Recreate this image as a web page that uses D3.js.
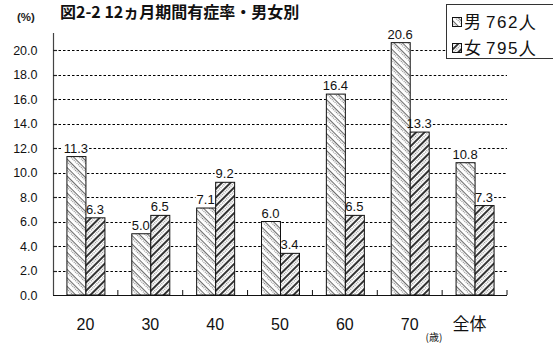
<!DOCTYPE html>
<html><head><meta charset="utf-8">
<script src="https://cdn.jsdelivr.net/npm/d3@7"></script>
<style>body{margin:0;background:#fff}svg{display:block}</style>
</head><body>
<svg id="c" width="553" height="344"></svg>
<script>
const categories = ["20","30","40","50","60","70","全体"];
const maleValues = [11.3, 5.0, 7.1, 6.0, 16.4, 20.6, 10.8];
const femaleValues = [6.3, 6.5, 9.2, 3.4, 6.5, 13.3, 7.3];
const yTicks = [0,2,4,6,8,10,12,14,16,18,20];
const seriesNames = ["男","女"];
const seriesCounts = ["762人","795人"];
const titleText = "図2-2 12ヵ月期間有症率・男女別";

const svg = d3.select("#c");
const font = "'Liberation Sans', Arial, sans-serif";
const cjk = "'Noto Sans CJK JP', sans-serif";

const defs = svg.append("defs");
const pm = defs.append("pattern").attr("id","pm").attr("patternUnits","userSpaceOnUse")
  .attr("width",6).attr("height",6).attr("patternTransform","rotate(45)");
pm.append("rect").attr("width",6).attr("height",6).attr("fill","#fff");
pm.append("line").attr("x1",0).attr("x2",6).attr("y1",0.6).attr("y2",0.6).attr("stroke","#333").attr("stroke-width",0.8);
pm.append("line").attr("x1",0).attr("x2",6).attr("y1",2.6).attr("y2",2.6).attr("stroke","#666").attr("stroke-width",0.9).attr("stroke-dasharray","1 1");
const pf = defs.append("pattern").attr("id","pf").attr("patternUnits","userSpaceOnUse")
  .attr("width",6).attr("height",6).attr("patternTransform","rotate(-45)");
pf.append("rect").attr("width",6).attr("height",6).attr("fill","#fff");
pf.append("line").attr("x1",0).attr("x2",6).attr("y1",1).attr("y2",1).attr("stroke","#000").attr("stroke-width",1.6);
pf.append("line").attr("x1",0).attr("x2",6).attr("y1",3.8).attr("y2",3.8).attr("stroke","#555").attr("stroke-width",0.9).attr("stroke-dasharray","1 1");

const x0 = 53, x1 = 507, yBase = 295;
const x = d3.scaleBand().domain(categories).range([x0, x1]).paddingInner(0).paddingOuter(0);
const y = d3.scaleLinear().domain([0, 20]).range([yBase, 50]);
const bw = 19;
const xs = d3.scaleBand().domain(seriesNames).range([x.bandwidth()/2 - bw, x.bandwidth()/2 + bw]);

svg.append("text").attr("x",60).attr("y",18).attr("font-family",cjk).attr("font-size",16)
  .attr("font-weight","bold").attr("fill","#111").text(titleText);

// y axis line + labels
svg.append("line").attr("x1",x0+0.5).attr("x2",x0+0.5).attr("y1",33).attr("y2",yBase)
  .attr("stroke","#444").attr("stroke-width",1.2);
const yAxis = d3.axisLeft(y).tickValues(yTicks).tickFormat(d3.format(".1f")).tickSize(0).tickPadding(16);
const ga = svg.append("g").attr("transform",`translate(${x0+0.5},0)`).call(yAxis);
ga.select(".domain").remove();
ga.selectAll("line").remove();
ga.selectAll("text").attr("font-family",font).attr("font-size",12.5).attr("fill","#111");

svg.append("text").attr("x",17).attr("y",21).attr("font-family",font).attr("font-size",11.5)
  .attr("font-weight","bold").attr("fill","#222").text("(%)");

// bars
const data = categories.map((c,i)=>({c, vals:[maleValues[i], femaleValues[i]]}));
const groups = svg.append("g").selectAll("g").data(data).join("g")
  .attr("transform",d=>`translate(${x(d.c)},0)`);
const patterns = ["url(#pm)","url(#pf)"];
groups.selectAll("rect.bar").data(d=>d.vals.map((v,k)=>({v,k}))).join("rect").attr("class","bar")
  .attr("x",d=>xs(seriesNames[d.k])+0.5).attr("width",bw)
  .attr("y",d=>y(d.v)).attr("height",d=>yBase-y(d.v))
  .attr("fill",d=>patterns[d.k]).attr("stroke","#111").attr("stroke-width",1);

// value labels
const blockers = [];
groups.each(function(d){
  const g = d3.select(this);
  const gx = x(d.c);
  d.vals.forEach((v,k)=>{
    const bx = xs(seriesNames[k]);
    blockers.push({x: gx+bx, y: y(v)-1, w: bw+1.5, h: yBase-y(v)+1});
    const cx = bx + bw/2;
    const t = g.append("text").attr("x",cx).attr("y",y(v)-4).attr("text-anchor","middle")
      .attr("font-family",font).attr("font-size",13).attr("fill","#111").text(d3.format(".1f")(v));
    const bb = t.node().getBBox();
    blockers.push({x: gx+bb.x-1, y: bb.y+1, w: bb.width+2, h: bb.height-2});
  });
});

// x axis
svg.append("line").attr("x1",x0).attr("x2",x1).attr("y1",yBase+0.5).attr("y2",yBase+0.5)
  .attr("stroke","#111").attr("stroke-width",1.2);
categories.forEach(c=>{
  svg.append("line").attr("x1",x(c)+x.bandwidth()).attr("x2",x(c)+x.bandwidth())
    .attr("y1",yBase).attr("y2",yBase-5).attr("stroke","#111");
  svg.append("text").attr("x",x(c)+x.bandwidth()/2 - (c==="全体"?5:0)).attr("y",330)
    .attr("text-anchor","middle").attr("font-family",c==="全体"?cjk:font)
    .attr("font-size",c==="全体"?17:16).attr("fill","#111").text(c);
});
svg.append("text").attr("x",434).attr("y",341).attr("text-anchor","middle")
  .attr("font-family",cjk).attr("font-size",10).attr("fill","#111").text("(歳)");

// legend
const legendBox = {x:446.5, y:4.5, w:120, h:54};
blockers.push({x:legendBox.x-1, y:legendBox.y-1, w:legendBox.w+2, h:legendBox.h+2});
const lg = svg.append("g");
lg.append("rect").attr("x",legendBox.x).attr("y",legendBox.y).attr("width",legendBox.w).attr("height",legendBox.h)
  .attr("fill","#fff").attr("stroke","#333");
seriesNames.forEach((s,k)=>{
  const cy = 22 + k*26;
  lg.append("rect").attr("x",452.5).attr("y",cy-4.5).attr("width",9).attr("height",9)
    .attr("fill",patterns[k]).attr("stroke","#111");
  lg.append("text").attr("x",464).attr("y",cy+6).attr("font-family",cjk).attr("font-size",17)
    .attr("fill","#111").text(s);
  lg.append("text").attr("x",486).attr("y",cy+6).attr("font-family",font).attr("font-size",17)
    .attr("fill","#111").attr("letter-spacing",1.5).text(seriesCounts[k]);
});

// dotted gridlines: drawn as segments in the gaps between bars/labels/legend, directly on the svg
yTicks.slice(1).forEach(v=>{
  const yy = Math.round(y(v)) + 0.5;
  const blocks = blockers.filter(b=>yy >= b.y && yy <= b.y + b.h)
    .map(b=>[b.x, b.x + b.w]).sort((a,b)=>a[0]-b[0]);
  let start = x0 + 1;
  const segs = [];
  blocks.forEach(([a,b])=>{
    if (a > start) segs.push([start, a]);
    start = Math.max(start, b);
  });
  if (start < x1) segs.push([start, x1]);
  segs.forEach(([a,b])=>{
    if (b - a < 1) return;
    svg.append("line").attr("x1",a).attr("x2",b).attr("y1",yy).attr("y2",yy)
      .attr("stroke","#000").attr("stroke-width",1.2).attr("stroke-dasharray","2.5 2");
  });
  // inward tick mark
  svg.append("line").attr("x1",x0).attr("x2",x0+4).attr("y1",yy).attr("y2",yy)
    .attr("stroke","#222").attr("stroke-width",1.2);
});
</script>
</body></html>
